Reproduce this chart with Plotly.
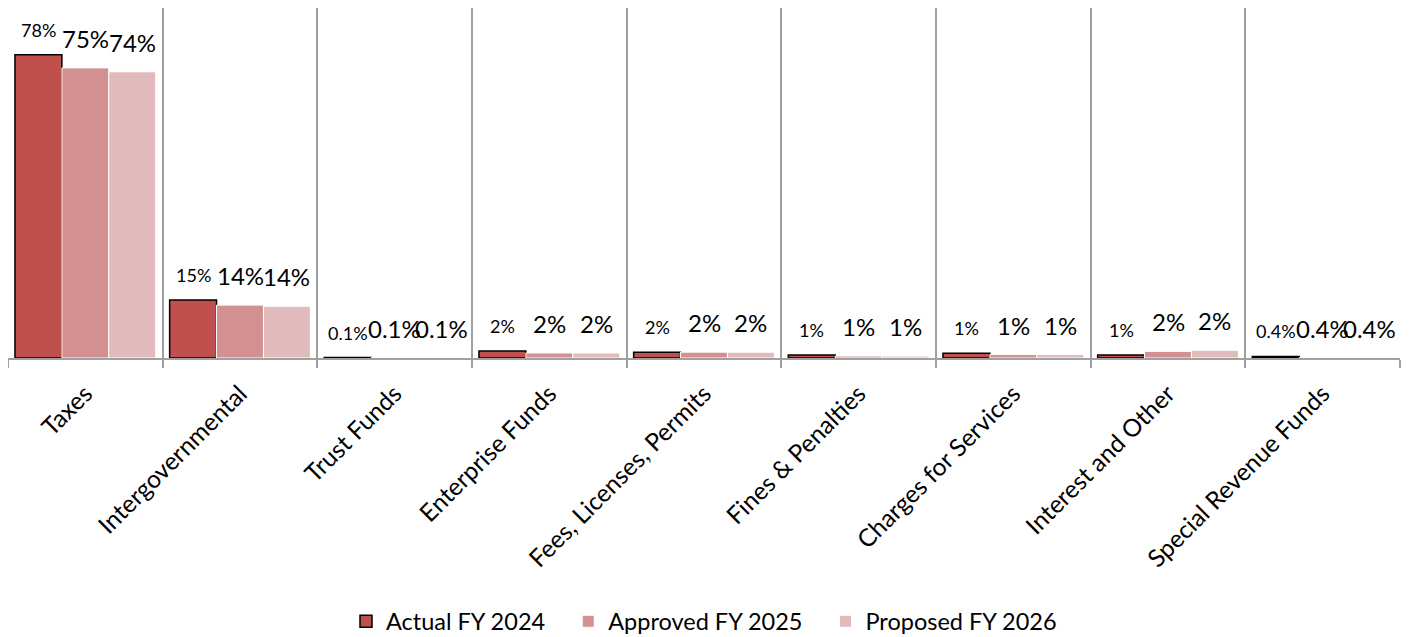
import plotly.graph_objects as go

categories = ["Taxes", "Intergovernmental", "Trust Funds", "Enterprise Funds",
              "Fees, Licenses, Permits", "Fines & Penalties", "Charges for Services",
              "Interest and Other", "Special Revenue Funds"]

actual_fy2024 = [0.780, 0.149, 0.001, 0.018, 0.015, 0.008, 0.012, 0.008, 0.004]
approved_fy2025 = [0.746, 0.136, 0.001, 0.013, 0.015, 0.005, 0.009, 0.017, 0.001]
proposed_fy2026 = [0.736, 0.133, 0.001, 0.013, 0.015, 0.005, 0.009, 0.020, 0.001]

actual_labels = ["78%", "15%", "0.1%", "2%", "2%", "1%", "1%", "1%", "0.4%"]
approved_labels = ["75%", "14%", "0.1%", "2%", "2%", "1%", "1%", "2%", "0.4%"]
proposed_labels = ["74%", "14%", "0.1%", "2%", "2%", "1%", "1%", "2%", "0.4%"]

series_names = ["Actual FY 2024", "Approved FY 2025", "Proposed FY 2026"]

FONT = "Lato"
BARGAP = 0.09
PAD = "\u00a0" * 3  # extra spacing between legend entries

series = [
    (series_names[0] + PAD, actual_fy2024, actual_labels, "#C0504D", "#000000", 1.5, 18, 12),
    (series_names[1] + PAD, approved_fy2025, approved_labels, "#D29090", "#FFFFFF", 1, 24, 13),
    (series_names[2], proposed_fy2026, proposed_labels, "#E1BBBB", "#FFFFFF", 1, 24, 13),
]

fig = go.Figure()
n = len(series)
bw = (1 - BARGAP) / n
annotations = []
for k, (name, vals, labels, color, lcolor, lw, fsize, ysh) in enumerate(series):
    fig.add_trace(go.Bar(
        name=name, x=categories, y=vals,
        marker=dict(color=color, line=dict(color=lcolor, width=lw)),
    ))
    off = (k - (n - 1) / 2) * bw
    for i, (v, t) in enumerate(zip(vals, labels)):
        annotations.append(dict(
            x=i + off, y=v, xref="x", yref="y", text=t, showarrow=False,
            xanchor="center", yanchor="bottom", yshift=ysh,
            font=dict(size=fsize, family=FONT, color="#000000"),
        ))

fig.update_layout(
    width=1405, height=629,
    margin=dict(l=0, r=13, t=0, b=279, pad=0, autoexpand=False),
    paper_bgcolor="white", plot_bgcolor="white",
    barmode="group", bargap=BARGAP, bargroupgap=0.0,
    font=dict(family=FONT, size=19, color="#000000"),
    showlegend=True,
    legend=dict(orientation="h", x=0.5, xanchor="center", y=-0.69, yanchor="top",
                font=dict(size=23.5, family=FONT), itemwidth=30,
                traceorder="normal"),
    annotations=annotations,
    xaxis=dict(
        automargin=False,
        tickson="boundaries", showgrid=True, gridcolor="#A0A0A0", gridwidth=1.5,
        showline=True, linecolor="#A0A0A0", linewidth=1.5,
        ticks="outside", ticklen=8, tickcolor="#A0A0A0", tickwidth=1.5,
        tickangle=-45, tickfont=dict(size=24.5, family=FONT),
        ticklabelstandoff=10,
    ),
    yaxis=dict(automargin=False, range=[0, 0.9], showgrid=False, showticklabels=False,
               zeroline=False, showline=False, ticks=""),
)

fig.write_html("out.html")
